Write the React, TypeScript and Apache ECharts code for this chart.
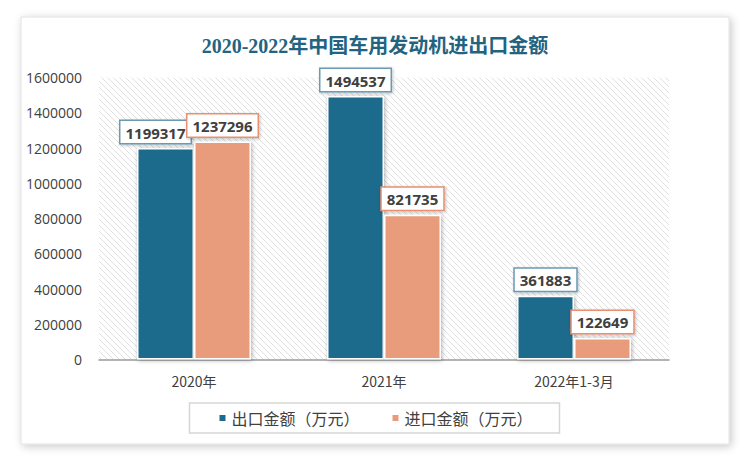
import React, { useEffect, useRef } from "react";
import * as echarts from "echarts";

const categories = ["2020年", "2021年", "2022年1-3月"];
const exportValues = [1199317, 1494537, 361883];
const importValues = [1237296, 821735, 122649];
const seriesNames = ["出口金额（万元）", "进口金额（万元）"];
const titleText = "2020-2022年中国车用发动机进出口金额";

const hatchSvg =
  "data:image/svg+xml;charset=utf-8," +
  encodeURIComponent(
    "<svg xmlns='http://www.w3.org/2000/svg' width='6' height='6'><path d='M0 0L6 6M-1 5L1 7M5 -1L7 1' stroke='#dddddd' stroke-width='0.9'/></svg>"
  );

export default function App() {
  const ref = useRef<HTMLDivElement>(null);
  useEffect(() => {
    if (!ref.current) return;
    const chart = echarts.init(ref.current, null, { renderer: "svg" });
    const labelBase = {
      show: true,
      position: "top",
      distance: 5,
      backgroundColor: "#ffffff",
      borderWidth: 1.5,
      padding: [4, 5, 3, 5],
      fontSize: 15,
      fontWeight: "bold",
      fontFamily: "Open Sans, sans-serif",
      color: "#404040",
      shadowColor: "rgba(0,0,0,0.25)",
      shadowBlur: 3,
      shadowOffsetX: 1,
      shadowOffsetY: 1,
    };
    const barStyle = {
      borderColor: "#ffffff",
      borderWidth: 1.5,
      shadowColor: "rgba(0,0,0,0.3)",
      shadowBlur: 4,
      shadowOffsetX: 1,
      shadowOffsetY: 1,
    };
    chart.setOption({
      animation: false,
      backgroundColor: "#ffffff",
      graphic: [
        {
          type: "rect",
          z: -10,
          shape: { x: 21, y: 17, width: 708, height: 427 },
          style: {
            fill: "#ffffff",
            stroke: "#e2e2e2",
            lineWidth: 1,
            shadowColor: "rgba(0,0,0,0.22)",
            shadowBlur: 8,
            shadowOffsetX: 2,
            shadowOffsetY: 2,
          },
        },
      ],
      title: {
        text: titleText,
        left: "center",
        top: 31,
        textStyle: {
          fontFamily: "Liberation Serif, Noto Sans CJK SC",
          fontSize: 20,
          fontWeight: "bold",
          color: "#236382",
        },
      },
      grid: {
        left: 99,
        right: 81,
        top: 77.5,
        bottom: 101.5,
        show: true,
        borderWidth: 0,
        backgroundColor: {
          image: hatchSvg,
          repeat: "repeat",
          imageWidth: 6,
          imageHeight: 6,
        },
      },
      legend: {
        bottom: 28,
        left: "center",
        icon: "rect",
        itemWidth: 8,
        itemHeight: 8,
        itemGap: 31,
        padding: [7, 27, 7, 28],
        borderColor: "#d6d6d6",
        borderWidth: 1.5,
        textStyle: {
          fontFamily: "Noto Sans CJK SC",
          fontSize: 16,
          color: "#404040",
        },
        data: seriesNames,
      },
      xAxis: {
        type: "category",
        data: categories,
        axisTick: { show: false },
        axisLine: { lineStyle: { color: "#9a9a9a", width: 1.5 } },
        axisLabel: {
          margin: 14,
          fontSize: 14,
          color: "#404040",
          fontFamily: "Noto Sans CJK SC",
        },
      },
      yAxis: {
        type: "value",
        min: 0,
        max: 1600000,
        interval: 200000,
        splitLine: { show: false },
        axisLine: { show: false },
        axisTick: { show: false },
        axisLabel: {
          margin: 17,
          fontSize: 14,
          color: "#404040",
          fontFamily: "Open Sans, sans-serif",
          formatter: (v: number) => String(v),
        },
      },
      series: [
        {
          name: seriesNames[0],
          type: "bar",
          barWidth: 57,
          barGap: "0%",
          itemStyle: { ...barStyle, color: "#1d6a8c" },
          label: { ...labelBase, borderColor: "#6a9bb3" },
          data: exportValues.map((v, i) =>
            i === 0 ? { value: v, label: { offset: [-10, 0] } } : v
          ),
        },
        {
          name: seriesNames[1],
          type: "bar",
          barWidth: 57,
          barGap: "0%",
          itemStyle: { ...barStyle, color: "#e89c7c" },
          label: { ...labelBase, borderColor: "#e8906f" },
          data: importValues,
        },
      ],
    });
    return () => chart.dispose();
  }, []);
  return (
    <div
      ref={ref}
      style={{ position: "fixed", left: 0, top: 0, width: 750, height: 461 }}
    />
  );
}
